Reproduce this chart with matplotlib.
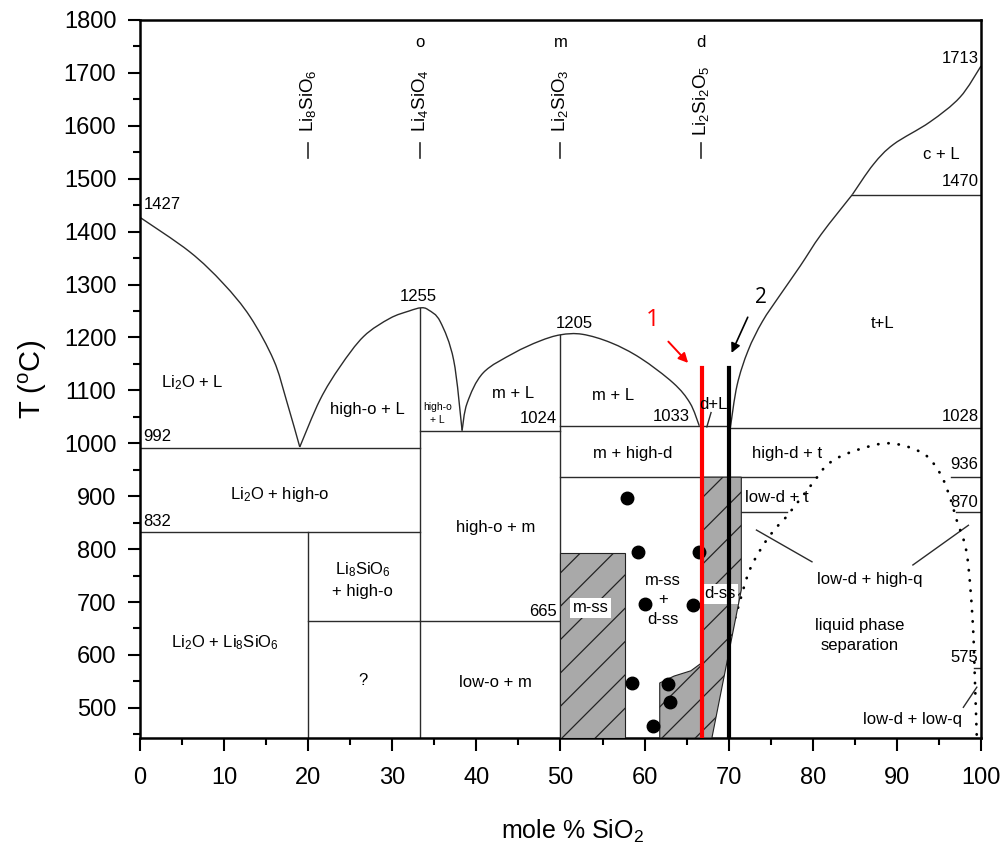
import matplotlib
matplotlib.use("Agg")
import matplotlib.pyplot as plt
from matplotlib import font_manager
from matplotlib.path import Path
from matplotlib.patches import PathPatch

# liquidus curves (mole % SiO2, T in C)
liq_li2o_x = [0, 5.9, 9.9, 13.1, 15.9, 17.4, 19.0]
liq_li2o_T = [1427, 1362, 1302, 1239, 1157, 1082, 993]
liq_o_x = [19.0, 21.4, 23.8, 26.6, 29.7, 32.0, 33.4, 34.3, 35.7, 37.3, 38.3]
liq_o_T = [993, 1082, 1145, 1202, 1236, 1250, 1256, 1252, 1230, 1157, 1024]
liq_m_x = [38.3, 38.9, 40.8, 44.4, 47.5, 50.0, 52.6, 56.0, 59.5, 63.4, 65.4, 66.5]
liq_m_T = [1024, 1076, 1133, 1170, 1193, 1205, 1206, 1190, 1161, 1114, 1076, 1033]
liq_t_x = [70.2, 71.0, 72.3, 74.0, 76.1, 78.5, 81.0, 84.7]
liq_t_T = [1030, 1110, 1175, 1230, 1280, 1335, 1395, 1470]
liq_c_x = [84.7, 87.2, 89.6, 93.9, 97.5, 100.0]
liq_c_T = [1470, 1527, 1565, 1607, 1654, 1713]

# miscibility gap (dotted)
gap_x = [67.9, 68.3, 71.7, 72.9, 74.5, 75.9, 76.9, 80.0, 82.0, 85.2, 89.2, 93.1, 95.1, 96.3, 97.1, 98.3, 99.0, 99.3, 99.5]
gap_T = [443, 520, 722, 774, 817, 845, 862, 925, 963, 987, 1000, 981, 944, 898, 855, 792, 666, 539, 443]

# horizontal invariants: (T, x_start, x_end)
isotherms = [(992, 0, 33.3), (832, 0, 33.3), (665, 20, 50), (1024, 33.3, 50),
             (1033, 50, 70), (1028, 70, 100), (936, 50, 80.3), (936, 96.4, 100),
             (870, 71.5, 76.9), (870, 97.0, 100), (575, 99.2, 100), (1470, 84.7, 100)]
# vertical compound lines: (x, T_top)
verticals = [(20, 832), (33.3, 1255), (50, 1205)]

# solid solution regions
mss_x = [50, 57.7, 57.7, 50]
mss_T = [443, 443, 792, 792]
dss_x = [66.7, 71.5, 71.5, 68.0, 61.8, 61.8, 63.5, 65.5, 66.7]
dss_T = [936, 936, 723, 443, 443, 547, 560, 570, 584]

# experimental points
pts_x = [57.9, 59.2, 66.5, 60.0, 65.7, 58.5, 62.8, 63.0, 61.0]
pts_T = [897, 795, 795, 696, 694, 546, 545, 511, 466]

# compounds on top
comp_x = [20, 33.3, 50, 66.7]
comp_names = [r"Li$_8$SiO$_6$", r"Li$_4$SiO$_4$", r"Li$_2$SiO$_3$", r"Li$_2$Si$_2$O$_5$"]
comp_short = ["", "o", "m", "d"]

# temperature labels: (text, x, T, ha)
temp_labels = [("1427", 0.4, 1452, "left"), ("992", 0.4, 1013, "left"), ("832", 0.4, 853, "left"),
               ("1255", 33.1, 1278, "center"), ("1024", 49.6, 1046, "right"), ("1205", 51.7, 1227, "center"),
               ("1033", 65.4, 1051, "right"), ("665", 49.6, 683, "right"), ("1713", 99.7, 1728, "right"),
               ("1470", 99.7, 1494, "right"), ("1028", 99.7, 1051, "right"), ("936", 99.7, 960, "right"),
               ("870", 99.7, 889, "right"), ("575", 99.7, 596, "right")]

# phase field labels: (text, x, T, size)
field_labels = [(r"Li$_2$O + L", 6.2, 1114, 12), ("high-o + L", 27.0, 1063, 12), ("high-o\n+ L", 35.4, 1057, 7.5),
                ("m + L", 44.4, 1095, 12), ("m + L", 56.2, 1090, 12), ("d+L", 68.2, 1073, 12),
                ("t+L", 88.3, 1227, 12), ("c + L", 95.3, 1545, 12), ("m + high-d", 58.6, 980, 12),
                ("high-d + t", 76.9, 980, 12), ("low-d + t", 75.7, 898, 12), (r"Li$_2$O + high-o", 16.6, 903, 12),
                ("high-o + m", 42.3, 840, 12), (r"Li$_8$SiO$_6$" + "\n+ high-o", 26.5, 742, 12),
                ("m-ss\n+\nd-ss", 62.2, 704, 12), (r"Li$_2$O + Li$_8$SiO$_6$", 10.1, 624, 12), ("?", 26.5, 552, 12),
                ("low-o + m", 42.3, 548, 12), ("liquid phase\nseparation", 85.6, 636, 12),
                ("low-d + high-q", 86.8, 743, 12), ("low-d + low-q", 91.8, 478, 12)]

# pointer lines for labels
pointers = [((73.3, 79.9), (836, 776)), ((91.9, 98.5), (770, 845)), ((97.9, 99.5), (501, 539)), ((67.4, 67.9), (1031, 1058))]


def smooth_path(xs, ys):
    # cubic bezier through the read points (catmull-rom control points)
    pts = list(zip(xs, ys))
    verts = [pts[0]]
    codes = [Path.MOVETO]
    for i in range(len(pts) - 1):
        p0 = pts[i - 1] if i > 0 else pts[i]
        p1, p2 = pts[i], pts[i + 1]
        p3 = pts[i + 2] if i + 2 < len(pts) else pts[i + 1]
        c1 = (p1[0] + (p2[0] - p0[0]) / 6, p1[1] + (p2[1] - p0[1]) / 6)
        c2 = (p2[0] - (p3[0] - p1[0]) / 6, p2[1] - (p3[1] - p1[1]) / 6)
        verts += [c1, c2, p2]
        codes += [Path.CURVE4] * 3
    return Path(verts, codes)


names = {f.name for f in font_manager.fontManager.ttflist}
narrow = "Liberation Sans Narrow" if "Liberation Sans Narrow" in names else "Liberation Sans"

plt.rcParams["font.family"] = ["Liberation Sans", "DejaVu Sans"]
plt.rcParams["mathtext.fontset"] = "custom"
plt.rcParams["mathtext.rm"] = "Liberation Sans"
plt.rcParams["mathtext.it"] = "Liberation Sans:italic"
plt.rcParams["hatch.linewidth"] = 0.9

fig = plt.figure(figsize=(10.07, 8.47), dpi=100)
ax = fig.add_axes([0.139, 0.1287, 0.8352, 0.8477])
lc = "#2b2b2b"
lw = 1.0

for xs, ts in [(liq_li2o_x, liq_li2o_T), (liq_o_x, liq_o_T), (liq_m_x, liq_m_T), (liq_t_x, liq_t_T), (liq_c_x, liq_c_T)]:
    ax.add_patch(PathPatch(smooth_path(xs, ts), fill=False, edgecolor=lc, lw=lw, zorder=2))
for T, x0, x1 in isotherms:
    ax.plot([x0, x1], [T, T], color=lc, lw=lw, zorder=2)
for x, T in verticals:
    ax.plot([x, x], [440, T], color=lc, lw=lw, zorder=2)
for (x0, x1), (t0, t1) in pointers:
    ax.plot([x0, x1], [t0, t1], color=lc, lw=lw, zorder=2)

gap = PathPatch(smooth_path(gap_x, gap_T), fill=False, edgecolor="black", lw=2.0,
                linestyle=(0, (0.1, 3.6)), zorder=2)
gap.set_capstyle("round")
ax.add_patch(gap)

ax.fill(mss_x, mss_T, facecolor="#a9a9a9", edgecolor="#222222", hatch="/", lw=0.8, zorder=3)
ax.fill(dss_x, dss_T, facecolor="#a9a9a9", edgecolor="#222222", hatch="/", lw=0.8, zorder=3)

ax.plot(pts_x, pts_T, "o", color="black", ms=9, zorder=5)

ax.plot([66.8, 66.8], [443, 1142], color="red", lw=3, zorder=6)
ax.plot([70.0, 70.0], [443, 1142], color="black", lw=3, zorder=6)
ax.annotate("", xy=(65.4, 1148), xytext=(62.6, 1196),
            arrowprops=dict(arrowstyle="-|>", color="red", lw=1.4, mutation_scale=14))
ax.text(60.9, 1233, "1", color="red", fontsize=17, ha="center", va="center", family="Open Sans")
ax.annotate("", xy=(70.2, 1166), xytext=(72.4, 1243),
            arrowprops=dict(arrowstyle="-|>", color="black", lw=1.2, mutation_scale=14))
ax.text(73.8, 1276, "2", color="black", fontsize=15, ha="center", va="center", family="Open Sans")

for txt, x, T, ha in temp_labels:
    ax.text(x, T, txt, fontsize=12, ha=ha, va="center", zorder=7)
for txt, x, T, size in field_labels:
    ax.text(x, T, txt, fontsize=size, ha="center", va="center", linespacing=1.4, zorder=7)

box = dict(boxstyle="square,pad=0.15", facecolor="white", edgecolor="none")
ax.text(53.6, 689, "m-ss", fontsize=12, ha="center", va="center", bbox=box, zorder=7)
ax.text(68.9, 716, "d-ss", fontsize=12, ha="center", va="center", bbox=box, zorder=5.5)

for x, name, short in zip(comp_x, comp_names, comp_short):
    ax.plot([x, x], [1540, 1568], color=lc, lw=1.2)
    ax.text(x, 1648, name, rotation=90, fontsize=13.5, ha="center", va="center")
    if short:
        ax.text(x, 1758, short, fontsize=12, ha="center", va="center")

ax.set_xlim(0, 100)
ax.set_ylim(443, 1800)
ax.set_xticks(range(0, 101, 10))
ax.set_xticks(range(5, 100, 10), minor=True)
ax.set_yticks(range(500, 1801, 100))
ax.set_yticks(range(450, 1800, 100), minor=True)
ax.tick_params(which="major", direction="out", length=9, width=1.5)
ax.tick_params(which="minor", direction="out", length=5, width=1.5)
ax.tick_params(axis="y", labelsize=17, pad=8)
ax.tick_params(axis="x", labelsize=17, pad=12)
for lab in ax.get_xticklabels():
    lab.set_family(narrow)
for s in ax.spines.values():
    s.set_linewidth(1.8)

ax.set_xlabel(r"mole % SiO$_2$", fontsize=18, family=narrow)
ax.set_ylabel(r"T ($^{\rm o}$C)", fontsize=21)
ax.xaxis.set_label_coords(0.514, -0.111)
ax.yaxis.set_label_coords(-0.108, 0.5)

fig.savefig("out.png", dpi=100)
